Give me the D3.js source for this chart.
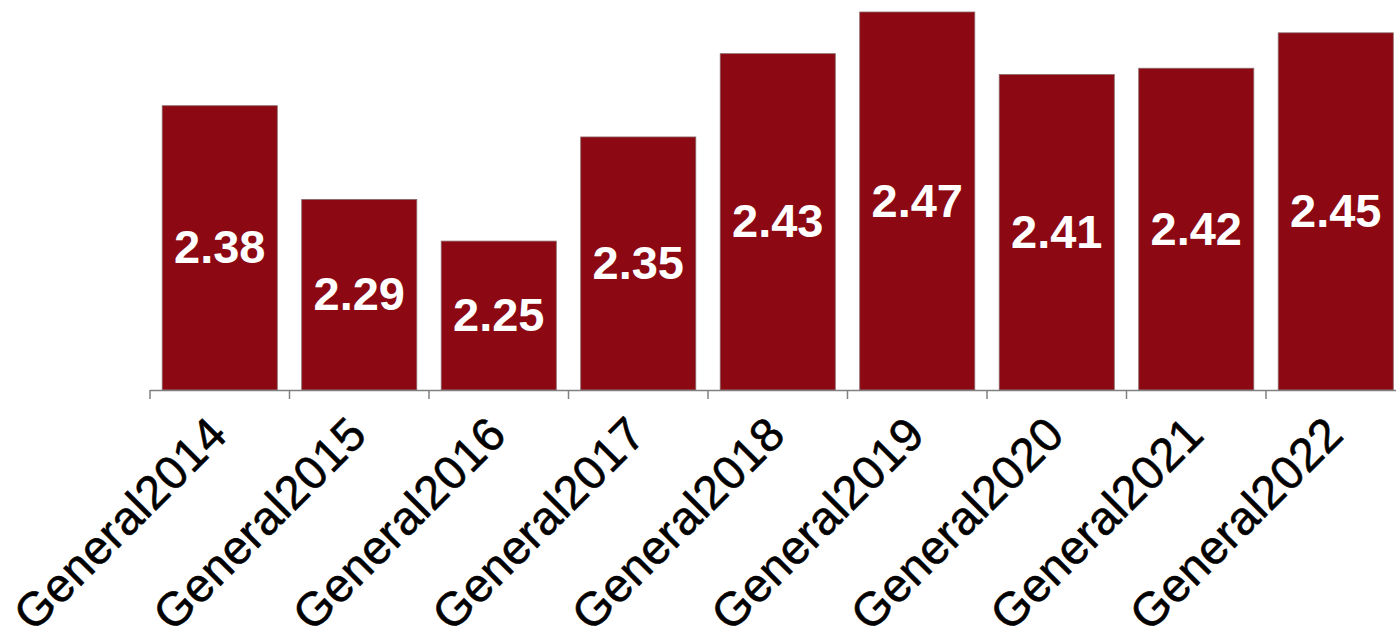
<!DOCTYPE html>
<html>
<head>
<meta charset="utf-8">
<script src="https://cdn.jsdelivr.net/npm/d3@7"></script>
<style>
  html, body { margin: 0; padding: 0; background: #fff; }
  svg { display: block; }
</style>
</head>
<body>
<svg id="chart" width="1396" height="640"></svg>
<script>
const categories = ["General2014","General2015","General2016","General2017","General2018","General2019","General2020","General2021","General2022"];
const values = [2.38, 2.29, 2.25, 2.35, 2.43, 2.47, 2.41, 2.416, 2.45];
const valueLabels = ["2.38","2.29","2.25","2.35","2.43","2.47","2.41","2.42","2.45"];

const svg = d3.select("#chart");
const baseY = 390;

const x = d3.scaleBand()
  .domain(categories)
  .range([150, 1405.5])
  .paddingInner(0.175)
  .paddingOuter(0.0875);

const y = d3.scaleLinear()
  .domain([2.107, 2.47])
  .range([baseY, 12]);

// bars
svg.append("g").selectAll("rect")
  .data(categories)
  .join("rect")
  .attr("x", d => x(d))
  .attr("width", x.bandwidth())
  .attr("y", (d, i) => y(values[i]))
  .attr("height", (d, i) => baseY - y(values[i]))
  .attr("fill", "#8c0812")
  .attr("stroke", "#8a6a6a")
  .attr("stroke-width", 0.8);

// value labels
svg.append("g").selectAll("text")
  .data(categories)
  .join("text")
  .attr("x", d => x(d) + x.bandwidth() / 2)
  .attr("y", (d, i) => (y(values[i]) + baseY) / 2)
  .attr("dy", "0.33em")
  .attr("text-anchor", "middle")
  .attr("font-family", "Liberation Sans, Arial, sans-serif")
  .attr("font-weight", "bold")
  .attr("font-size", 47)
  .attr("fill", "#ffffff")
  .text((d, i) => valueLabels[i]);

// axis line and ticks (ticks at band boundaries)
const axis = svg.append("g");
axis.append("line")
  .attr("x1", x.range()[0]).attr("x2", x.range()[1])
  .attr("y1", baseY + 0.5).attr("y2", baseY + 0.5)
  .attr("stroke", "#808080").attr("stroke-width", 1.5);
const step = x.step();
const boundaries = categories.map((d, i) => x(d) - step * x.paddingInner() / 2);
axis.selectAll("line.tick")
  .data(boundaries)
  .join("line")
  .attr("class", "tick")
  .attr("x1", d => d).attr("x2", d => d)
  .attr("y1", baseY).attr("y2", baseY + 9)
  .attr("stroke", "#808080").attr("stroke-width", 1.5);

// category labels
svg.append("g").selectAll("text")
  .data(categories)
  .join("text")
  .attr("transform", d => `translate(${x(d) + x.bandwidth() / 2 - 14},${baseY + 23}) rotate(-45)`)
  .attr("dy", "0.72em")
  .attr("text-anchor", "end")
  .attr("font-family", "Liberation Sans, Arial, sans-serif")
  .attr("font-size", 47)
  .attr("letter-spacing", 0.5)
  .attr("fill", "#000")
  .attr("stroke", "#000")
  .attr("stroke-width", 0.6)
  .text(d => d);
</script>
</body>
</html>
